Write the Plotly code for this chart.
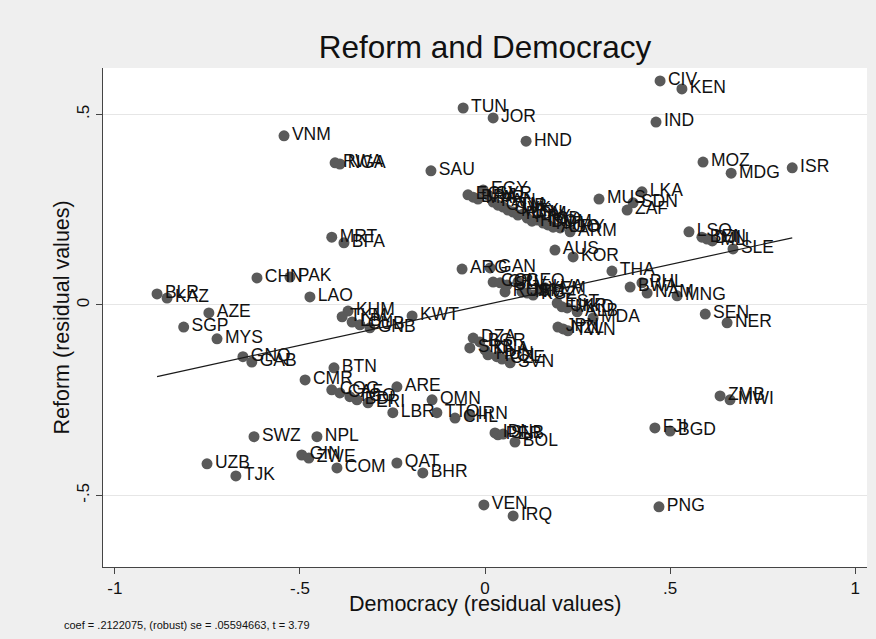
import plotly.graph_objects as go

countries = [
    "CIV", "KEN", "TUN", "JOR", "IND", "HND", "VNM", "RWA", "NGA", "SAU",
    "MOZ", "MDG", "ISR", "LKA", "MUS", "SDN", "ZAF",
    "ECU", "EGY", "SYR", "BRA", "MAR", "PAN", "GTM", "TUR", "SVK", "MEX",
    "ROM", "LTU", "PRY", "HRV", "TCD", "DOM", "HTI", "AGO", "URY", "ARM",
    "AUS", "KOR", "LSO", "BEN", "DJI", "MLI", "SLE", "MRT", "BFA", "CHN",
    "PAK", "ARG", "GAN", "THA", "BWA", "PHL", "NAM", "MNG", "SEN", "NER",
    "COL", "CRI", "SLV", "GEO", "RUS", "JAM", "NIC", "KGZ", "YEM", "LVA",
    "EST", "UKR", "MKD", "ALB", "MDA", "JPN", "NZL", "TWN",
    "LAO", "BLR", "KAZ", "AZE", "SGP", "MYS", "GNQ", "GAB",
    "KHM", "TKM", "LBY", "CUB", "GNB", "KWT", "BTN", "CMR",
    "COG", "CAF", "TGO", "BDI", "ERI", "ARE", "LBR", "OMN", "TTO", "CHL", "IRN",
    "DZA", "SRB", "BGR", "KNA", "HUN", "POL", "CZE", "SVN",
    "IDN", "PER", "SLB", "BOL", "FJI", "BGD", "ZMB", "MWI",
    "SWZ", "NPL", "GIN", "ZWE", "COM", "QAT", "BHR", "UZB", "TJK",
    "VEN", "IRQ", "PNG",
]

democracy_resid = [
    0.473, 0.532, -0.059, 0.022, 0.462, 0.111, -0.543, -0.405, -0.392, -0.146,
    0.589, 0.665, 0.830, 0.424, 0.308, 0.400, 0.384,
    -0.046, -0.005, 0.008, -0.032, -0.019, 0.022, 0.035, 0.049, 0.062, 0.076,
    0.089, 0.103, 0.114, 0.127, 0.141, 0.157, 0.170, 0.184, 0.203, 0.230,
    0.189, 0.238, 0.551, 0.586, 0.600, 0.614, 0.670, -0.414, -0.381, -0.616,
    -0.527, -0.062, 0.014, 0.343, 0.392, 0.424, 0.438, 0.519, 0.595, 0.654,
    0.022, 0.041, 0.059, 0.089, 0.054, 0.100, 0.114, 0.130, 0.149, 0.162,
    0.195, 0.208, 0.222, 0.249, 0.292, 0.197, 0.211, 0.224,
    -0.473, -0.886, -0.859, -0.746, -0.814, -0.724, -0.654, -0.630,
    -0.370, -0.386, -0.359, -0.338, -0.311, -0.197, -0.408, -0.486,
    -0.414, -0.392, -0.365, -0.346, -0.316, -0.238, -0.249, -0.143, -0.130, -0.081, -0.041,
    -0.032, -0.041, -0.014, 0.000, 0.008, 0.032, 0.046, 0.068,
    0.027, 0.035, 0.049, 0.081, 0.459, 0.500, 0.635, 0.662,
    -0.624, -0.454, -0.495, -0.476, -0.400, -0.238, -0.168, -0.751, -0.673,
    -0.003, 0.076, 0.470,
]

reform_resid = [
    0.588, 0.567, 0.517, 0.491, 0.480, 0.430, 0.444, 0.373, 0.370, 0.352,
    0.375, 0.346, 0.360, 0.297, 0.278, 0.268, 0.249,
    0.289, 0.302, 0.289, 0.283, 0.278, 0.270, 0.262, 0.257, 0.249, 0.244,
    0.236, 0.239, 0.228, 0.220, 0.223, 0.215, 0.210, 0.204, 0.202, 0.192,
    0.144, 0.126, 0.192, 0.178, 0.173, 0.168, 0.147, 0.178, 0.163, 0.071,
    0.073, 0.094, 0.097, 0.089, 0.047, 0.058, 0.031, 0.024, -0.024, -0.047,
    0.060, 0.058, 0.052, 0.060, 0.034, 0.034, 0.031, 0.026, 0.039, 0.045,
    0.005, -0.005, -0.008, -0.018, -0.034, -0.058, -0.063, -0.068,
    0.021, 0.029, 0.018, -0.021, -0.058, -0.089, -0.136, -0.150,
    -0.016, -0.031, -0.045, -0.052, -0.060, -0.029, -0.165, -0.197,
    -0.223, -0.231, -0.241, -0.249, -0.257, -0.215, -0.283, -0.249, -0.283, -0.297, -0.289,
    -0.087, -0.113, -0.097, -0.118, -0.131, -0.136, -0.142, -0.152,
    -0.336, -0.341, -0.339, -0.360, -0.323, -0.331, -0.239, -0.249,
    -0.346, -0.346, -0.394, -0.402, -0.428, -0.415, -0.441, -0.417, -0.449,
    -0.525, -0.554, -0.530,
]

coef = 0.2122075
intercept = 0.0
note_text = "coef = .2122075, (robust) se = .05594663, t = 3.79"

x_ticks = [-1, -0.5, 0, 0.5, 1]
x_ticklabels = ["-1", "-.5", "0", ".5", "1"]
y_ticks = [-0.5, 0, 0.5]
y_ticklabels = ["-.5", "0", ".5"]

FONT = "Liberation Sans, Arial, sans-serif"

fig = go.Figure()
fig.add_trace(go.Scatter(
    x=democracy_resid, y=reform_resid, mode="markers+text",
    text=countries, textposition="middle right",
    textfont=dict(family=FONT, size=17.5, color="#111111"),
    marker=dict(size=11, color="#5a5a5a"),
    cliponaxis=False, showlegend=False, hoverinfo="text",
))
xmin, xmax = min(democracy_resid), max(democracy_resid)
fig.add_trace(go.Scatter(
    x=[xmin, xmax], y=[intercept + coef * xmin, intercept + coef * xmax],
    mode="lines", line=dict(color="#1a1a1a", width=1.2),
    showlegend=False, hoverinfo="skip",
))

fig.update_layout(
    width=876, height=639,
    margin=dict(l=103, r=9, t=68, b=72),
    paper_bgcolor="#efefef", plot_bgcolor="#ffffff",
    font=dict(family=FONT, color="#111111"),
    title=dict(text="Reform and Democracy", x=0.5, xref="paper", xanchor="center",
               y=1 - 47 / 639, yref="container", yanchor="middle",
               font=dict(size=31.5, family=FONT, color="#111111")),
    xaxis=dict(range=[-1.032, 1.032], tickvals=x_ticks, ticktext=x_ticklabels,
               showgrid=False, zeroline=False, showline=True, linecolor="#444444",
               linewidth=1, ticks="outside", ticklen=6, tickcolor="#444444",
               tickfont=dict(size=17, family=FONT, color="#111111")),
    yaxis=dict(range=[-0.688, 0.622], tickvals=y_ticks, ticktext=y_ticklabels,
               showgrid=True, gridcolor="#e6e6e6", gridwidth=1.2,
               zeroline=False, showline=True, linecolor="#444444",
               linewidth=1, ticks="outside", ticklen=6, tickcolor="#444444",
               tickangle=-90,
               tickfont=dict(size=17, family=FONT, color="#111111")),
    annotations=[
        dict(text="Democracy (residual values)", xref="paper", yref="paper",
             x=0.5, y=-0.074, xanchor="center", yanchor="middle", showarrow=False,
             font=dict(size=21.5, family=FONT, color="#111111")),
        dict(text="Reform (residual values)", xref="paper", yref="paper",
             x=-0.0537, y=0.5, xanchor="center", yanchor="middle", showarrow=False,
             textangle=-90, font=dict(size=21.5, family=FONT, color="#111111")),
        dict(text=note_text, xref="paper", yref="paper",
             x=-0.0537, y=-0.116, xanchor="left", yanchor="middle", showarrow=False,
             font=dict(size=11, family=FONT, color="#111111")),
    ],
)

fig.write_html("out.html")
